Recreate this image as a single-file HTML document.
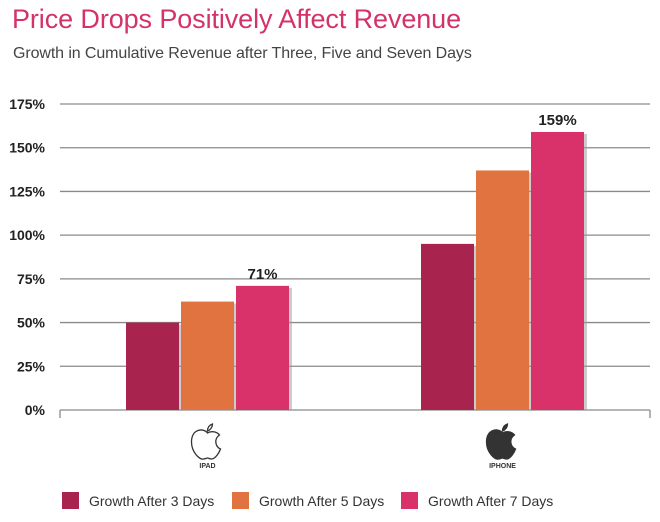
<!DOCTYPE html>
<html><head><meta charset="utf-8"><style>
body{margin:0;background:#fff;font-family:"Liberation Sans",sans-serif}
#wrap{position:relative;width:660px;height:522px;overflow:hidden}
.title{position:absolute;left:12px;top:4px;font-size:27px;color:#d4326a;letter-spacing:-0.1px}
.sub{position:absolute;left:13px;top:45px;font-size:16px;color:#444;letter-spacing:-0.1px}
</style></head><body>
<div id="wrap">
<div class="title">Price Drops Positively Affect Revenue</div>
<div class="sub">Growth in Cumulative Revenue after Three, Five and Seven Days</div>
<svg id="svg" width="660" height="522" style="position:absolute;left:0;top:0"></svg>
</div>
<script>
const categories=["IPAD","IPHONE"];
const growth3=[50,95];
const growth5=[62,137];
const growth7=[71,159];
const ticks=[0,25,50,75,100,125,150,175];
const seriesNames=["Growth After 3 Days","Growth After 5 Days","Growth After 7 Days"];
const colors=["#a8234e","#e07340","#d9326a"];
const svg=document.getElementById('svg');
const NS="http://www.w3.org/2000/svg";
const x0=60,x1=650,yTop=104,yBot=410,vmax=175;
const y=v=>yBot-(v/vmax)*(yBot-yTop);
const catC=i=>x0+(x1-x0)*(i+0.5)/categories.length;
function mk(t,a){const e=document.createElementNS(NS,t);for(const k in a)e.setAttribute(k,a[k]);svg.appendChild(e);return e;}
ticks.forEach(t=>{
 const l=mk('line',{x1:x0,x2:x1,y1:y(t),y2:y(t),stroke:'#8a8a8a','stroke-width':1.3});
 
 
 const tx=mk('text',{x:45,y:y(t)+5,'text-anchor':'end','font-size':14,'font-weight':'bold',fill:'#222'});
 tx.textContent=t+'%';
 
 
});
[x0,x1].forEach(xx=>{const l=mk('line',{x1:xx,x2:xx,y1:yBot,y2:yBot+8,stroke:'#8a8a8a','stroke-width':1.3});
 
 });
const series=[growth3,growth5,growth7];
const bw=53,gap=2;
categories.forEach((c,i)=>{
 const start=catC(i)-(3*bw+2*gap)/2;
 series.forEach((s,j)=>{
  const bx=start+j*(bw+gap);
  const sh=mk('rect',{x:bx+3,y:y(s[i])+2,width:bw,height:yBot-y(s[i])-2,fill:'#999',opacity:0.5});
  
  
  const r=mk('rect',{x:bx,y:y(s[i]),width:bw,height:yBot-y(s[i]),fill:colors[j]});
  
  
  if(j===2){const t=mk('text',{x:bx+bw/2,y:y(s[i])-7,'text-anchor':'middle','font-size':15,'font-weight':'bold',fill:'#222'});
   t.textContent=s[i]+'%';
   
   }
 });
 const cx=catC(i);
 const ap=mk('path',{d:`M${cx},${433} c-3,-5 -16,-5 -16,9 c0,10 8,18 12,17 c2,0 3,-1 4,-1 c1,0 2,1 4,1 c4,0 8,-7 9,-10 c-5,-2 -7,-10 -1,-14 c-3,-4 -9,-4 -12,-2 z M${cx},${431} c0,-4 2,-6 5,-7 c0,3 -2,6 -5,7 z`,fill:i===0?'#fff':'#333',stroke:'#333','stroke-width':1.3});
 
 
 const ct=mk('text',{x:cx,y:468,'text-anchor':'middle','font-size':7,'font-weight':'bold',fill:'#333'});
 ct.textContent=c;
 
 
});
const lx=[62,232,401];
seriesNames.forEach((n,j)=>{
 const r=mk('rect',{x:lx[j],y:492,width:17,height:17,fill:colors[j]});
 
 
 const t=mk('text',{x:lx[j]+27,y:506,'font-size':14,fill:'#333'});
 t.textContent=n;
 
 
});
</script>
</body></html>
